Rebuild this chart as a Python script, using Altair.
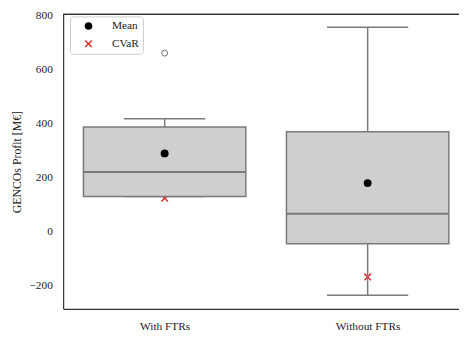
import altair as alt
import pandas as pd

categories = ["With FTRs", "Without FTRs"]
positions = [1, 2]
whisker_low = [130, -236]
q1 = [130, -45]
median = [221, 66]
q3 = [388, 370]
whisker_high = [419, 758]
mean_vals = [290, 180]
cvar_vals = [124, -168]
outlier_pos = [1]
outlier_vals = [662]
y_ticks = [-200, 0, 200, 400, 600, 800]

box_df = pd.DataFrame({
    "category": categories, "pos": positions, "lo": whisker_low, "q1": q1,
    "med": median, "q3": q3, "hi": whisker_high,
})
stat_df = pd.DataFrame({
    "pos": positions * 2,
    "value": mean_vals + cvar_vals,
    "stat": ["Mean"] * len(mean_vals) + ["CVaR"] * len(cvar_vals),
})
out_df = pd.DataFrame({"pos": outlier_pos, "value": outlier_vals})

FONT = "Liberation Serif"
TXT = "#222222"
LINE = "#7a7a7a"
W, H = 402, 299

x_scale = alt.Scale(domain=[0.5, 2.45], nice=False, zero=False)
y_scale = alt.Scale(domain=[-286.6, 805.5], nice=False, zero=False)
label_expr = "[" + ",".join("'" + c + "'" for c in categories) + "][datum.value - 1]"
x_axis = alt.Axis(values=positions, labelExpr=label_expr, title=None, ticks=False,
                  grid=False, labelPadding=12)
y_axis = alt.Axis(values=y_ticks, title="GENCOs Profit [M€]", ticks=False, grid=False,
                  labelPadding=11, titlePadding=6, format="d")

X = alt.X("pos:Q", scale=x_scale, axis=x_axis)
Xlo = alt.X("x_lo:Q", scale=x_scale, axis=x_axis)
Xhi = alt.X2("x_hi:Q")


def Y(field):
    return alt.Y(field + ":Q", scale=y_scale, axis=y_axis)


XPATH = ("M-1,-0.72L-0.72,-1L0,-0.28L0.72,-1L1,-0.72L0.28,0L1,0.72L0.72,1"
         "L0,0.28L-0.72,1L-1,0.72L-0.28,0Z")
leg = alt.Legend(title=None, orient="none", legendX=7, legendY=2, fillColor="white",
                 strokeColor="#cccccc", cornerRadius=3, padding=4, symbolSize=60,
                 rowPadding=5, symbolOffset=9, labelOffset=18, labelFont=FONT,
                 labelFontSize=11.5, labelColor=TXT)
color = alt.Color("stat:N", scale=alt.Scale(domain=["Mean", "CVaR"], range=["black", "#e32b2b"]), legend=leg)
shape = alt.Shape("stat:N", scale=alt.Scale(domain=["Mean", "CVaR"], range=["circle", XPATH]), legend=leg)

stats = alt.Chart(stat_df)
cvar_layer = stats.transform_filter("datum.stat == 'CVaR'").mark_point(
    filled=True, size=60, opacity=1).encode(x=X, y=Y("value"), color=color, shape=shape)
mean_layer = stats.transform_filter("datum.stat == 'Mean'").mark_point(
    filled=True, size=64, opacity=1).encode(x=X, y=Y("value"), color=color, shape=shape)

base = alt.Chart(box_df).transform_calculate(
    x_lo="datum.pos - 0.4", x_hi="datum.pos + 0.4",
    c_lo="datum.pos - 0.2", c_hi="datum.pos + 0.2")

whisk_up = base.mark_rule(color=LINE, strokeWidth=1.5).encode(x=X, y=Y("q3"), y2="hi:Q")
whisk_dn = base.mark_rule(color=LINE, strokeWidth=1.5).encode(x=X, y=Y("lo"), y2="q1:Q")
cap_up = base.mark_rule(color=LINE, strokeWidth=1.5).encode(
    x=alt.X("c_lo:Q", scale=x_scale, axis=x_axis), x2="c_hi:Q", y=Y("hi"))
cap_dn = base.mark_rule(color=LINE, strokeWidth=1.5).encode(
    x=alt.X("c_lo:Q", scale=x_scale, axis=x_axis), x2="c_hi:Q", y=Y("lo"))
boxes = base.mark_rect(fill="#cfcfcf", stroke=LINE, strokeWidth=1.5).encode(
    x=Xlo, x2=Xhi, y=Y("q1"), y2="q3:Q")
med_line = base.mark_rule(color=LINE, strokeWidth=2).encode(x=Xlo, x2=Xhi, y=Y("med"))

outliers = alt.Chart(out_df).mark_point(
    shape="circle", filled=False, size=36, color="#333333", strokeWidth=1).encode(
    x=X, y=Y("value"))

top_frame = alt.Chart(box_df).mark_rule(color="#333333", strokeWidth=1.2).encode(
    x=alt.value(0), x2=alt.value(W), y=alt.value(0))

chart = alt.layer(
    cvar_layer, whisk_up, whisk_dn, cap_up, cap_dn, boxes, med_line, mean_layer, outliers, top_frame
).properties(
    width=W, height=H,
    autosize=alt.AutoSizeParams(type="none"),
    padding={"left": 56, "top": 4, "right": 0, "bottom": 24},
).configure_view(stroke=None).configure_axis(
    domainColor="#333333", domainWidth=1.2, labelColor=TXT, titleColor=TXT,
    labelFont=FONT, titleFont=FONT, labelFontSize=11.5, titleFontSize=12,
    titleFontWeight="normal",
)

chart.save("out.html", embed_options={"renderer": "svg", "actions": False})
